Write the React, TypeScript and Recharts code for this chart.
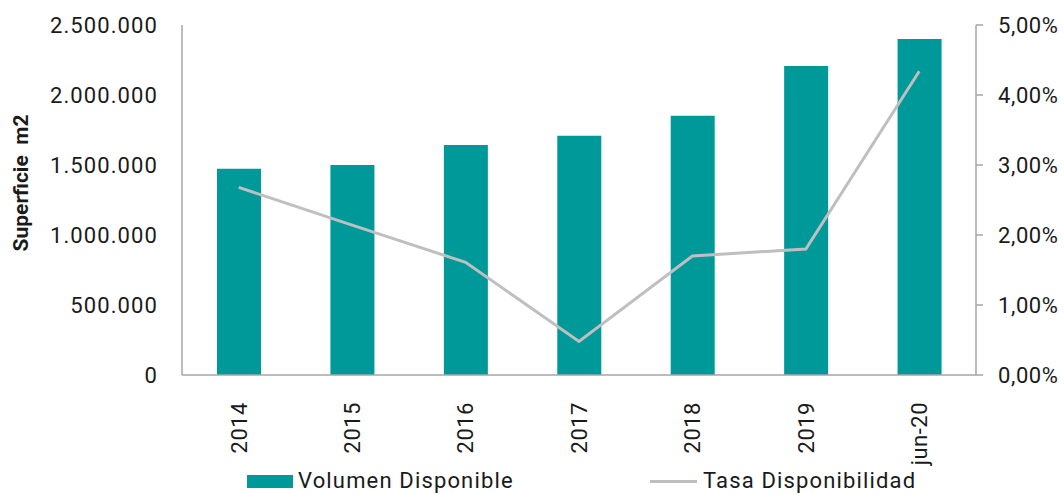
import { ComposedChart, Bar, Line, XAxis, YAxis } from 'recharts'

// categorías y series
const periodos = ['2014', '2015', '2016', '2017', '2018', '2019', 'jun-20']
const volumenDisponible = [1473000, 1500000, 1643000, 1709000, 1852000, 2207000, 2400000]
const tasaDisponibilidad = [2.68, 2.14, 1.61, 0.48, 1.7, 1.8, 4.34]

const ticksSuperficie = [0, 500000, 1000000, 1500000, 2000000, 2500000]
const ticksTasa = [0, 1, 2, 3, 4, 5]

const data = periodos.map((p, i) => ({
  periodo: p,
  volumen: volumenDisponible[i],
  tasa: tasaDisponibilidad[i],
}))

const TEAL = '#009999'
const GRIS = '#BFBFBF'
const EJE = '#A6A6A6'
const TEXTO = '#1a1a1a'
const FUENTE = 'Roboto, "Noto Sans", sans-serif'

const fmtMiles = (v: number) => String(v).replace(/\B(?=(\d{3})+(?!\d))/g, '.')
const fmtPct = (v: number) => v.toFixed(2).replace('.', ',') + '%'

const tickStyle = { fill: TEXTO, fontSize: 22, fontFamily: FUENTE, letterSpacing: 1.1 }

const XTick = (props: any) => {
  const { x, y, payload } = props
  return (
    <g transform={`translate(${x},${y + 19}) rotate(-90)`}>
      <text
        textAnchor="end"
        dy="0.355em"
        fill={TEXTO}
        fontSize={22}
        fontFamily={FUENTE}
        letterSpacing={0.5}
      >
        {payload.value}
      </text>
    </g>
  )
}

const YLabel = () => (
  <text
    transform="translate(28,183) rotate(-90)"
    textAnchor="middle"
    fontSize={21}
    fontWeight="bold"
    fontFamily={FUENTE}
    fill={TEXTO}
    style={{ whiteSpace: 'pre' }}
  >
    {'Superficie  m2'}
  </text>
)

const legendText = {
  position: 'absolute' as const,
  top: 468,
  fontSize: 22,
  fontFamily: FUENTE,
  color: TEXTO,
  lineHeight: '26px',
  letterSpacing: 1.15,
  whiteSpace: 'nowrap' as const,
}

export default function App() {
  return (
    <div style={{ position: 'absolute', left: 0, top: 0, width: 1064, height: 494, background: '#fff' }}>
      <ComposedChart
        width={1064}
        height={494}
        data={data}
        margin={{ top: 25, right: 0, left: 0, bottom: 0 }}
      >
        <XAxis
          dataKey="periodo"
          height={119}
          axisLine={{ stroke: EJE, strokeWidth: 1.5 }}
          tickLine={false}
          tick={<XTick />}
          interval={0}
        />
        <YAxis
          yAxisId="left"
          width={182}
          domain={[0, 2500000]}
          ticks={ticksSuperficie}
          tickFormatter={fmtMiles}
          axisLine={{ stroke: EJE, strokeWidth: 1.5 }}
          tickLine={false}
          tickSize={0}
          tickMargin={24}
          tick={tickStyle}
          label={<YLabel />}
        />
        <YAxis
          yAxisId="right"
          orientation="right"
          width={88}
          domain={[0, 5]}
          ticks={ticksTasa}
          tickFormatter={fmtPct}
          axisLine={{ stroke: EJE, strokeWidth: 1.5 }}
          tickLine={{ stroke: EJE, strokeWidth: 1.5 }}
          tickSize={7}
          tickMargin={15}
          tick={{ ...tickStyle, letterSpacing: 0.6, textAnchor: 'start' }}
        />
        <Bar
          yAxisId="left"
          dataKey="volumen"
          name="Volumen Disponible"
          fill={TEAL}
          barSize={44}
          isAnimationActive={false}
        />
        <Line
          yAxisId="right"
          dataKey="tasa"
          name="Tasa Disponibilidad"
          type="linear"
          stroke={GRIS}
          strokeWidth={3}
          dot={false}
          activeDot={false}
          isAnimationActive={false}
        />
      </ComposedChart>

      {/* leyenda */}
      <div style={{ position: 'absolute', left: 247, top: 475, width: 46, height: 13, background: TEAL }} />
      <div style={{ ...legendText, left: 298 }}>Volumen Disponible</div>
      <div style={{ position: 'absolute', left: 650, top: 480, width: 47, height: 3, background: GRIS }} />
      <div style={{ ...legendText, left: 703 }}>Tasa Disponibilidad</div>
    </div>
  )
}
